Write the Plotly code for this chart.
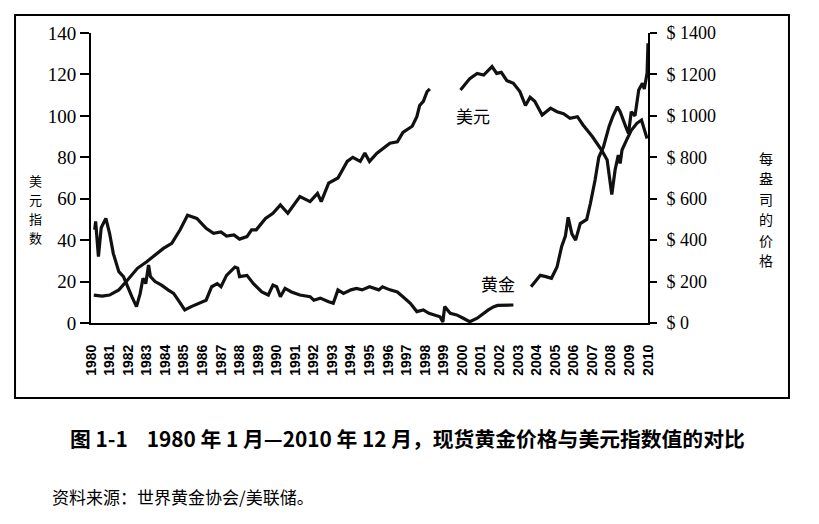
import plotly.graph_objs as go

# 美元指数 (left axis), None marks the gap around 1999
usd_years = [1980.15, 1980.6, 1981.0, 1981.5, 1981.9, 1982.5, 1983.0, 1983.35, 1983.9, 1984.35,
             1984.8, 1985.2, 1985.7, 1986.2, 1986.6, 1987.0, 1987.3, 1987.7, 1988.0, 1988.4,
             1988.65, 1988.9, 1989.4, 1989.8, 1990.2, 1990.6, 1991.25, 1991.8, 1992.2, 1992.4,
             1992.8, 1993.3, 1993.8, 1994.1, 1994.5, 1994.75, 1995.0, 1995.4, 1996.1, 1996.5,
             1996.8, 1997.3, 1997.55, 1997.7, 1997.9, 1998.1, 1998.25, 1999.0,
             1999.9, 2000.2, 2000.4, 2000.8, 2001.15, 2001.6, 2001.85, 2002.1, 2002.4, 2002.75,
             2003.1, 2003.4, 2003.65, 2003.9, 2004.3, 2004.75, 2005.1, 2005.45, 2005.8, 2006.2,
             2006.5, 2007.0, 2007.25, 2007.5, 2007.8, 2008.05, 2008.23, 2008.4, 2008.5, 2008.6,
             2008.85, 2009.1, 2009.4, 2009.65, 2009.95]
usd_index = [13.5, 13, 13.5, 16, 20, 26.4, 29.6, 32, 36, 38.5,
             45, 52, 50.5, 45.7, 43.3, 44, 42, 42.5, 40.5, 41.7,
             45, 45, 50.5, 53, 57, 53, 61, 58.6, 62.6, 58.6,
             67.5, 70, 78, 80, 78, 82, 78, 82, 86.8, 87.5,
             92, 95, 99.6, 105, 107, 111.7, 113, None,
             112.5, 115.7, 118, 120.5, 119.7, 123.8, 120.5, 121, 117, 115.7,
             111.7, 105, 109, 107, 100.4, 103.7, 102, 101, 98.8, 99.6,
             95.6, 90, 86.8, 83.5, 78.7, 62, 74, 81, 77, 83.5,
             88.4, 93, 96.4, 98, 89]

# 现货黄金价格, $ per ounce (right axis)
gold_years = [1980.2, 1980.25, 1980.4, 1980.55, 1980.8, 1981.0, 1981.2, 1981.5, 1981.75, 1981.9,
              1982.2, 1982.45, 1982.65, 1982.8, 1982.95, 1983.1, 1983.2, 1983.45, 1983.8, 1984.15,
              1984.45, 1984.7, 1985.05, 1985.4, 1985.8, 1986.2, 1986.5, 1986.8, 1987.0, 1987.3,
              1987.75, 1987.9, 1988.0, 1988.4, 1988.75, 1989.2, 1989.55, 1989.8, 1990.0, 1990.2,
              1990.45, 1990.8, 1991.25, 1991.8, 1992.0, 1992.35, 1992.8, 1993.05, 1993.3, 1993.6,
              1994.0, 1994.3, 1994.6, 1995.0, 1995.5, 1995.7, 1996.1, 1996.5, 1996.8, 1997.2,
              1997.55, 1997.9, 1998.2, 1998.55, 1998.8, 1998.95, 1999.05, 1999.35, 1999.7, 2000.05,
              2000.4, 2000.8, 2001.15, 2001.4, 2001.7, 2001.9, 2002.75, 2003.2,
              2003.7, 2003.85, 2004.2, 2004.5, 2004.8, 2005.1, 2005.35, 2005.55, 2005.7, 2005.9,
              2006.1, 2006.35, 2006.7, 2006.9, 2007.15, 2007.35, 2007.6, 2007.9, 2008.1, 2008.35,
              2008.5, 2008.8, 2008.95, 2009.1, 2009.3, 2009.5, 2009.7, 2009.8, 2009.95, 2010.0]
gold_price = [450, 490, 320, 460, 505, 433, 336, 248, 224, 190,
              127, 79, 143, 216, 190, 280, 224, 200, 183, 160,
              143, 110, 63, 79, 95, 110, 175, 190, 175, 230,
              270, 265, 224, 230, 190, 150, 135, 183, 175, 127,
              167, 150, 135, 127, 110, 120, 103, 95, 160, 143,
              160, 167, 160, 175, 160, 175, 160, 150, 127, 95,
              55, 63, 47, 39, 30, 5, 79, 47, 39, 23,
              6, 23, 47, 63, 79, 85, 87, None,
              175, 190, 230, 224, 216, 270, 370, 420, 510, 430,
              400, 480, 500, 578, 690, 800, 850, 948, 996, 1044,
              1020, 948, 916, 1020, 1000, 1125, 1157, 1130, 1205, 1350]

years = list(range(1980, 2011))
usd_ticks = [0, 20, 40, 60, 80, 100, 120, 140]
gold_ticks = [0, 200, 400, 600, 800, 1000, 1200, 1400]

left_title = '美元指数'
right_title = '每盎司的价格'
caption = '图 1-1    1980 年 1 月—2010 年 12 月，现货黄金价格与美元指数值的对比'
source = '资料来源：世界黄金协会/美联储。'

serif = 'Liberation Serif'
cjk = 'Noto Sans CJK SC'

fig = go.Figure()
fig.add_trace(go.Scatter(x=usd_years, y=usd_index, mode='lines', name='美元',
                         line=dict(color='#111111', width=3.2), connectgaps=False))
fig.add_trace(go.Scatter(x=gold_years, y=gold_price, mode='lines', name='黄金', yaxis='y2',
                         line=dict(color='#111111', width=3.2), connectgaps=False))

# page body has an 8px margin, so the plot box is shifted up/left by 8
fig.update_layout(
    width=819, height=524,
    margin=dict(l=83, r=179, t=25, b=209),
    paper_bgcolor='white', plot_bgcolor='white',
    showlegend=False,
    xaxis=dict(
        range=[1980, 2010], tickvals=years, ticktext=[str(y) for y in years],
        tickangle=-90, ticks='', showgrid=False, zeroline=False,
        showline=True, linecolor='black', linewidth=2,
        ticklabelstandoff=14,
        tickfont=dict(family='Liberation Sans, Arial, sans-serif', size=14, color='black', weight='bold'),
    ),
    # tick marks on the bottom axis are spaced differently from the year labels
    xaxis2=dict(
        overlaying='x', anchor='y', side='bottom', range=[0, 27],
        tickvals=list(range(0, 28)), ticks='outside', ticklen=8, tickwidth=2, tickcolor='black',
        showticklabels=False, showgrid=False, zeroline=False, showline=False,
    ),
    yaxis=dict(
        range=[0, 140], tickvals=usd_ticks, ticks='outside', ticklen=9, tickwidth=2, tickcolor='black',
        showgrid=False, zeroline=False, showline=True, linecolor='black', linewidth=2,
        tickfont=dict(family=serif, size=19, color='black'),
    ),
    yaxis2=dict(
        overlaying='y', side='right', range=[0, 1400], tickvals=gold_ticks,
        ticktext=['$ ' + str(v) for v in gold_ticks],
        ticks='outside', ticklen=7, tickwidth=2, tickcolor='black', ticklabelstandoff=6,
        showgrid=False, zeroline=False, showline=True, linecolor='black', linewidth=2,
        tickfont=dict(family=serif, size=18, color='black'),
    ),
    shapes=[dict(type='rect', xref='paper', yref='paper', x0=-0.1364, x1=1.2531, y0=-0.2586, y1=1.0621,
                 line=dict(color='black', width=2))],
)

fig.add_annotation(x=2000.6, y=100.4, xref='x', yref='y', text='美元', showarrow=False,
                   xanchor='center', yanchor='middle', font=dict(family=cjk, size=17, color='black'))
fig.add_annotation(x=2001.9, y=19.3, xref='x', yref='y', text='黄金', showarrow=False,
                   xanchor='center', yanchor='middle', font=dict(family=cjk, size=17, color='black'))

# vertical axis titles, one character per annotation
for i, ch in enumerate(left_title):
    fig.add_annotation(x=-0.1005, y=0.493 - i * 0.0655, xref='paper', yref='paper', text=ch,
                       xanchor='center', yanchor='middle', showarrow=False,
                       font=dict(family=cjk, size=13, color='black'))
for i, ch in enumerate(right_title):
    fig.add_annotation(x=1.2118, y=0.569 - i * 0.0703, xref='paper', yref='paper', text=ch,
                       xanchor='center', yanchor='middle', showarrow=False,
                       font=dict(family=cjk, size=14, color='black'))

fig.add_annotation(x=-0.0413, y=-0.3966, xref='paper', yref='paper', xanchor='left', yanchor='middle',
                   text=caption, showarrow=False,
                   font=dict(family=cjk, size=20.8, color='black', weight='bold'))
fig.add_annotation(x=-0.0736, y=-0.5966, xref='paper', yref='paper', xanchor='left', yanchor='middle',
                   text=source, showarrow=False, font=dict(family=cjk, size=17, color='black'))

fig.write_html("out.html")
